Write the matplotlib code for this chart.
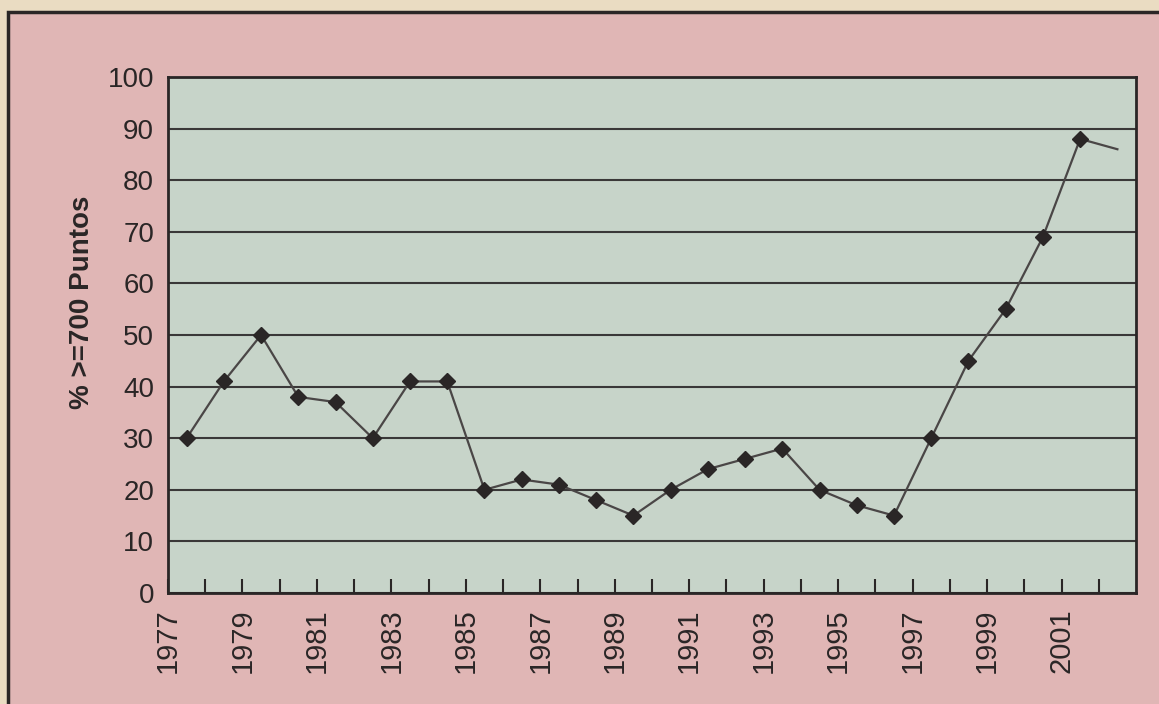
"""Share of scores >= 700 points per year, 1977-2002."""
import matplotlib.pyplot as plt
from matplotlib.patches import Rectangle

plt.rcParams["font.family"] = ["Liberation Sans", "DejaVu Sans"]

YEARS = list(range(1977, 2003))
PCT = [30, 41, 50, 38, 37, 30, 41, 41, 20, 22, 21, 18, 15,
       20, 24, 26, 28, 20, 17, 15, 30, 45, 55, 69, 88, 86]
Y_LABEL = "% >=700 Puntos"

PAPER = "#eadcc2"
PINK = "#e0b6b5"
PLOT_BG = "#c7d4c9"
INK = "#2a2626"


def main() -> None:
    fig = plt.figure(figsize=(11.59, 7.04), dpi=100, facecolor=PAPER)
    fig.patches.append(Rectangle((8 / 1159, -0.01), 1.02, 1 - 12 / 704 + 0.01,
                                 transform=fig.transFigure, facecolor=PINK,
                                 edgecolor=INK, linewidth=2.5, zorder=-10))

    ax = fig.add_axes([168 / 1159, 1 - 593 / 704, (1136 - 168) / 1159, (593 - 77) / 704])
    ax.set_facecolor(PLOT_BG)

    n = len(YEARS)
    xs = [i + 0.5 for i in range(n)]
    ax.plot(xs, PCT, color="#4a4646", linewidth=1.6, zorder=3)
    # last year drawn as line end only, no marker
    ax.plot(xs[:-1], PCT[:-1], linestyle="none", marker="D", markersize=8,
            color=INK, zorder=4)

    ax.set_xlim(0, n)
    ax.set_ylim(0, 100)
    ax.set_yticks(range(0, 101, 10))
    ax.yaxis.grid(True, color="#3a3838", linewidth=1.5)
    ax.set_axisbelow(True)
    ax.tick_params(axis="y", length=0, pad=10, labelsize=20, colors=INK)

    ax.set_xticks(range(n))
    ax.set_xticklabels([str(y) if (y - 1977) % 2 == 0 else "" for y in YEARS],
                       rotation=90)
    ax.tick_params(axis="x", direction="in", length=10, width=1.5, pad=11,
                   labelsize=21, colors=INK)

    for s in ax.spines.values():
        s.set_color(INK)
        s.set_linewidth(2)

    ax.set_ylabel(Y_LABEL, fontsize=20, fontweight="bold", color=INK)
    ax.yaxis.set_label_coords(-0.075, 0.564)

    fig.savefig("out.png", dpi=100, facecolor=PAPER)
    plt.close(fig)


if __name__ == "__main__":
    main()
